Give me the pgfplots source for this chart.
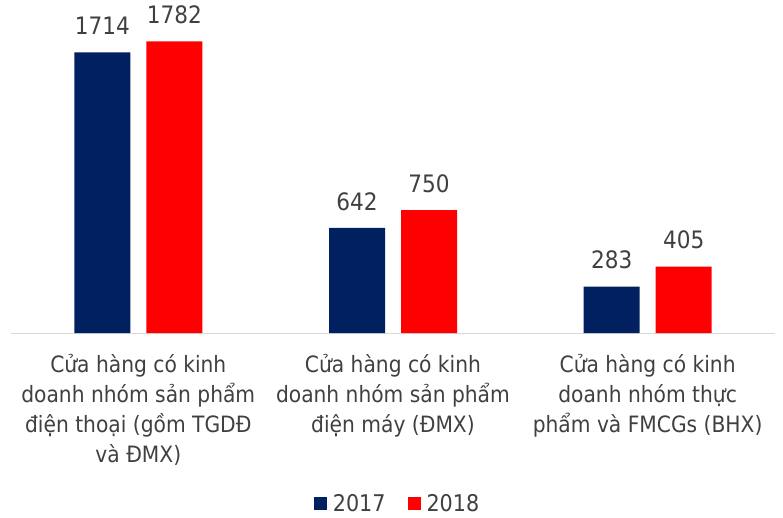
\documentclass[border=0pt]{standalone}
\usepackage{pgfplots}
\pgfplotsset{compat=1.18}
\usepackage{fontspec}
\setmainfont{DejaVu Sans Condensed}
\definecolor{navy}{HTML}{002060}
\definecolor{red18}{HTML}{FF0000}
\definecolor{txt}{HTML}{404040}
\definecolor{axgray}{HTML}{D9D9D9}
\begin{document}
\begin{tikzpicture}
\begin{axis}[
  name=ax,
  scale only axis,
  width=764pt, height=311pt,
  xmin=-0.5, xmax=2.5, ymin=0, ymax=1900,
  ybar, bar width=56pt,
  axis x line=bottom, axis y line=none,
  axis line style={-, draw=axgray, line width=1pt},
  xtick={0,1,2},
  major tick length=0pt,
  xticklabels={{Cửa hàng có kinh\\doanh nhóm sản phẩm\\điện thoại (gồm TGDĐ\\và ĐMX)},
               {Cửa hàng có kinh\\doanh nhóm sản phẩm\\điện máy (ĐMX)},
               {Cửa hàng có kinh\\doanh nhóm thực\\phẩm và FMCGs (BHX)}},
  xticklabel style={align=center, font=\fontsize{22.5}{30}\selectfont, text=txt, yshift=-18pt},
  nodes near coords,
  /pgf/number format/.cd, 1000 sep={}, assume math mode=true, /pgfplots/.cd,
  every node near coord/.append style={font=\fontsize{24}{26}\selectfont, text=txt, yshift=14pt},
  legend style={at={(0.506,-0.549)}, anchor=center, draw=none, legend columns=2,
    font=\fontsize{23}{26}\selectfont, text=txt,
    /tikz/every even column/.append style={column sep=20pt}},
  legend image code/.code={\fill[#1] (0pt,-6.5pt) rectangle (13pt,6.5pt);},
  clip=false,
]
\addplot[fill=navy, draw=none, bar shift=-36pt] coordinates {(0,1714) (1,642) (2,283)};
\addplot[fill=red18, draw=none, bar shift=36pt] coordinates {(0,1782) (1,750) (2,405)};
\legend{\hspace{4pt}2017,\hspace{4pt}2018}
\end{axis}
\path[use as bounding box] ([xshift=-11pt,yshift=-184pt]ax.south west) rectangle ([xshift=8pt,yshift=22pt]ax.north east);
\end{tikzpicture}
\end{document}
